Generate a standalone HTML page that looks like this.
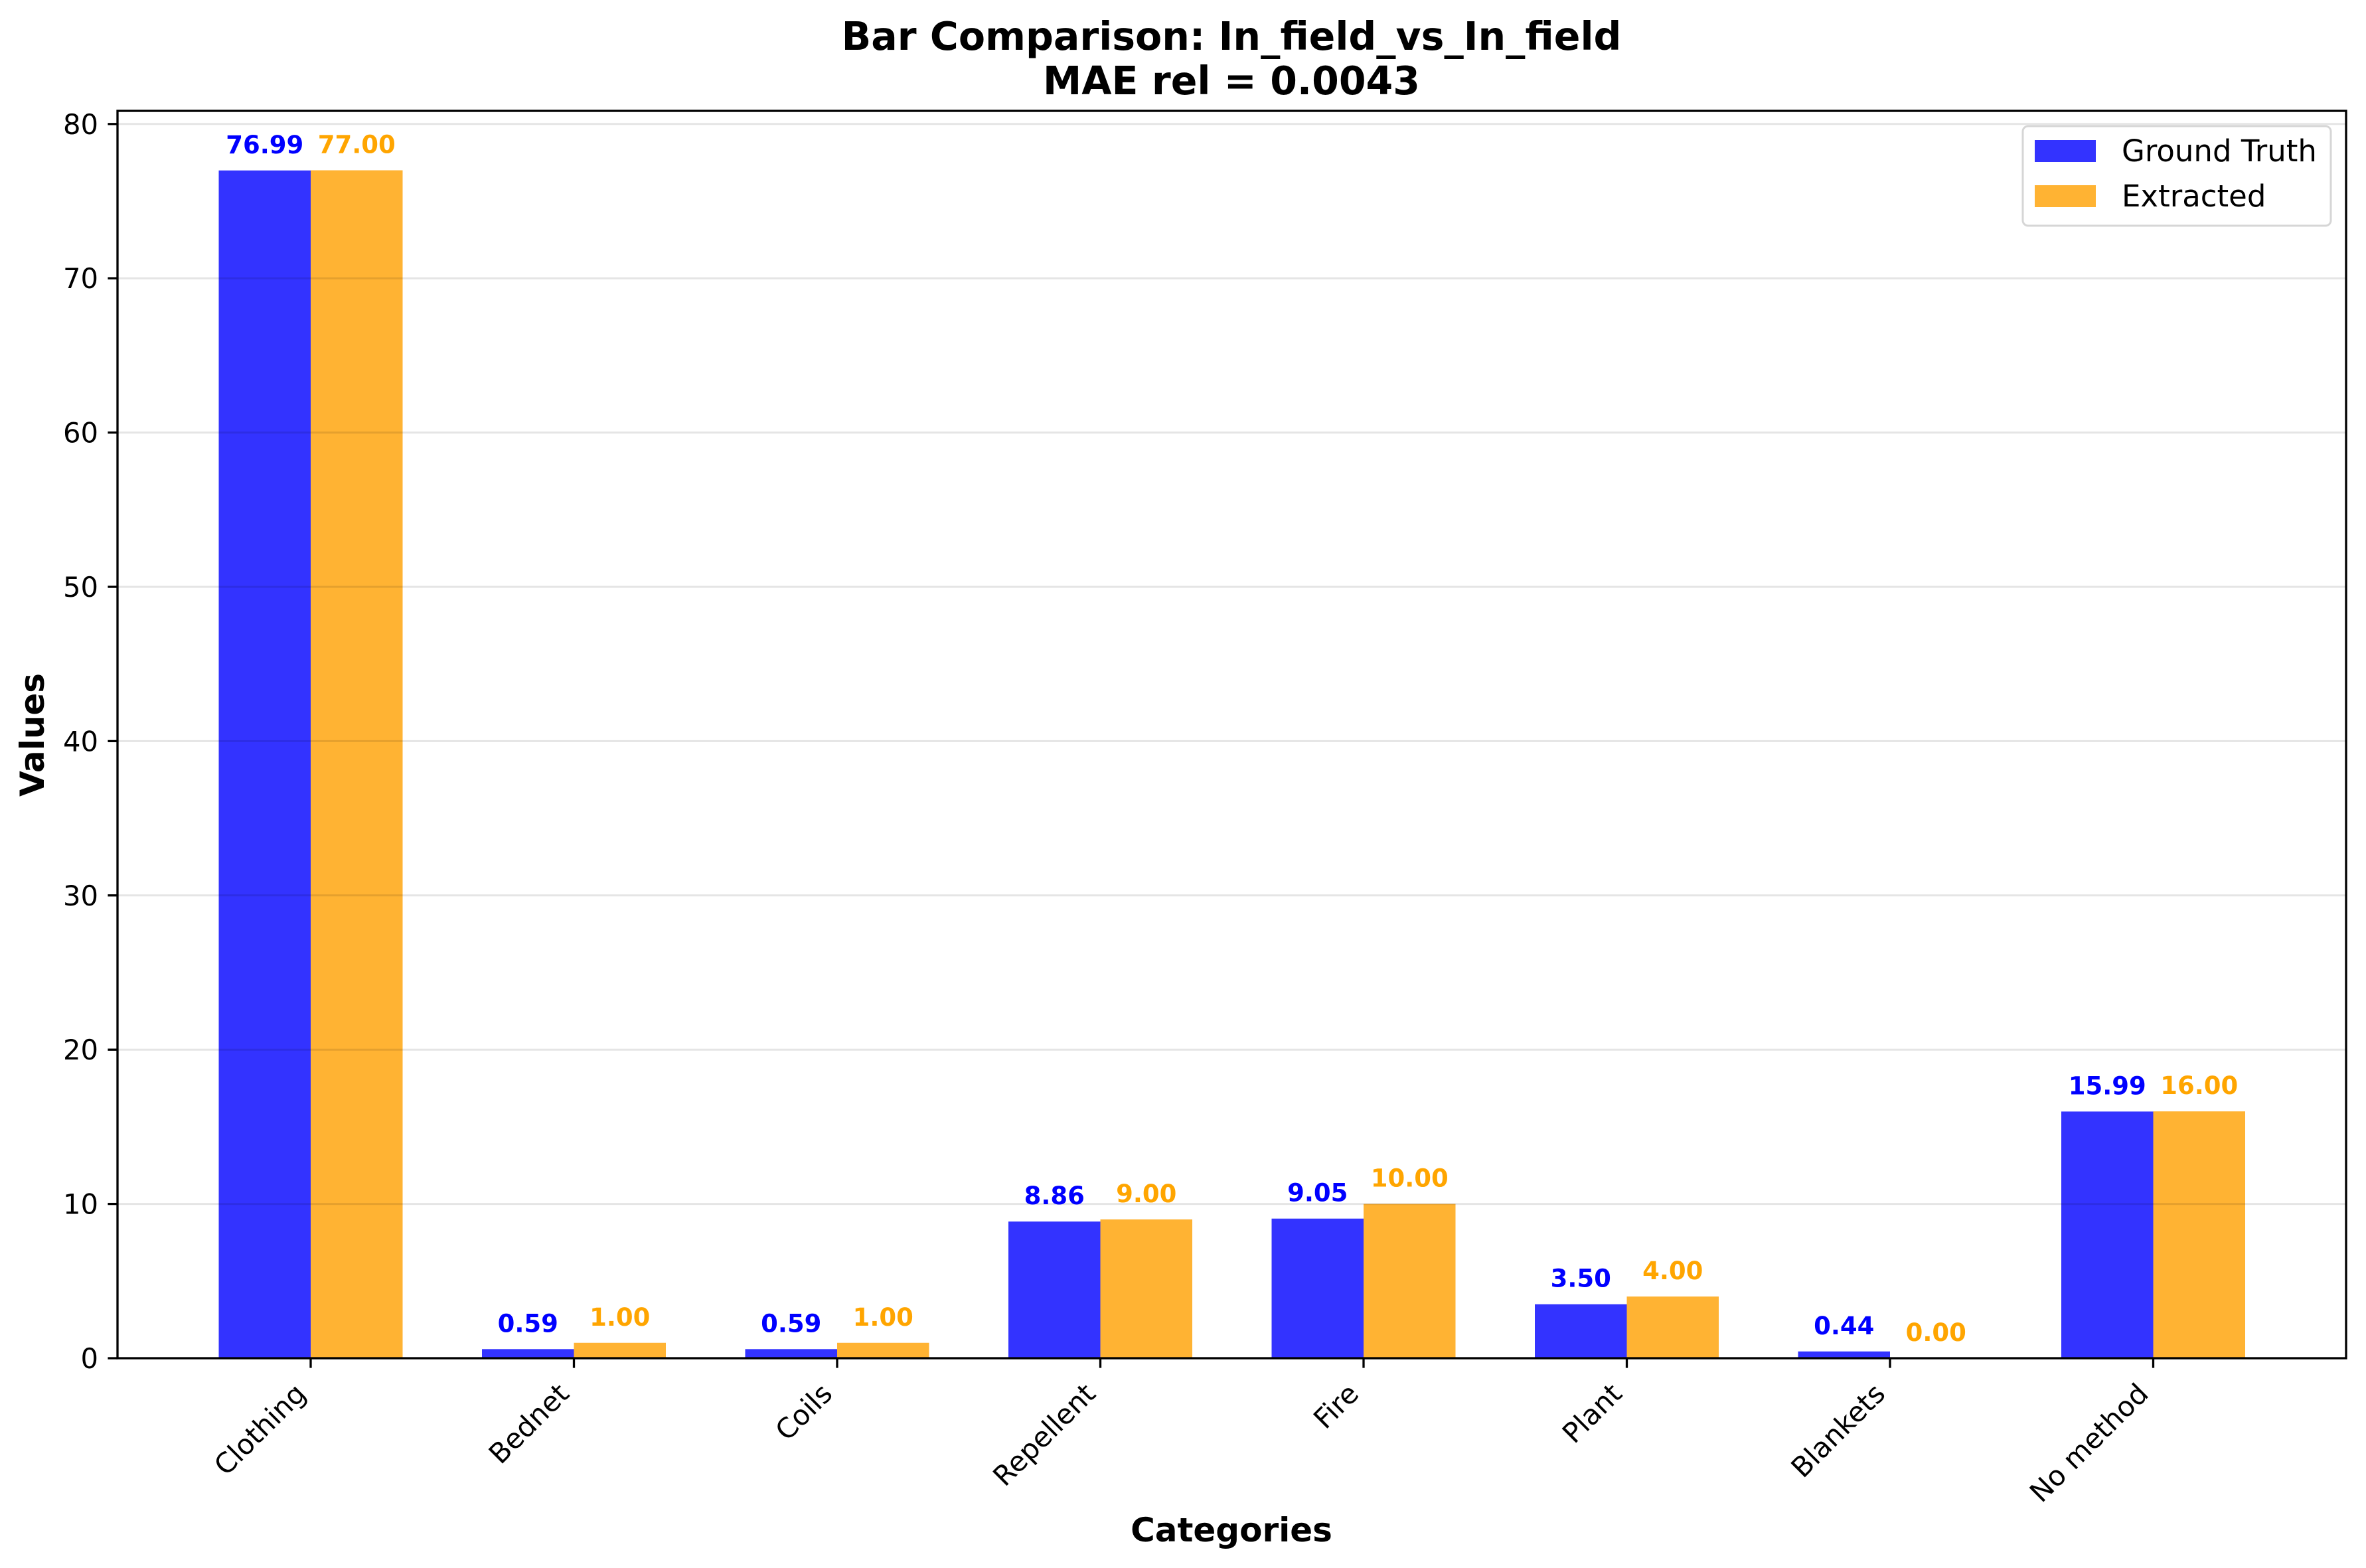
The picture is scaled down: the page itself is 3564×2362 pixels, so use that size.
<!DOCTYPE html>
<html><head><meta charset="utf-8"><style>
html,body{margin:0;padding:0;background:#fff;}
svg{display:block;font-family:"DejaVu Sans","Liberation Sans",sans-serif;}
</style></head><body>
<svg id="chart" width="3564" height="2362" viewBox="0 0 3564 2362" xmlns="http://www.w3.org/2000/svg">
<rect x="0" y="0" width="3564" height="2362" fill="#fff"/>
<g id="bars"></g>
<g id="grid"></g>
<g id="labels"></g>
<g id="axes"></g>
<text x="1855" y="75" text-anchor="middle" font-size="58.5" font-weight="bold">Bar Comparison: In_field_vs_In_field</text>
<text x="1855" y="142" text-anchor="middle" font-size="58.5" font-weight="bold">MAE rel = 0.0043</text>
<text x="1855" y="2322" text-anchor="middle" font-size="50" font-weight="bold">Categories</text>
<text x="66" y="1107" text-anchor="middle" font-size="50" font-weight="bold" transform="rotate(-90 66 1107)">Values</text>
<g>
<rect x="3047" y="190" width="464" height="150" rx="8" fill="#fff" fill-opacity="0.8" stroke="#d6d6d6" stroke-width="3"/>
<rect x="3065" y="211" width="92" height="33" fill="#3333ff"/>
<text x="3196" y="243" font-size="45">Ground Truth</text>
<rect x="3065" y="279" width="92" height="33" fill="#ffb333"/>
<text x="3196" y="311" font-size="45">Extracted</text>
</g>
</svg>
<script>
const categories = ["Clothing","Bednet","Coils","Repellent","Fire","Plant","Blankets","No method"];
const groundTruth = [76.99,0.59,0.59,8.86,9.05,3.50,0.44,15.99];
const extracted = [77.00,1.00,1.00,9.00,10.00,4.00,0.00,16.00];
const yTicks = [0,10,20,30,40,50,60,70,80];

const NS = "http://www.w3.org/2000/svg";
const L = 177, R = 3534, T = 167, B = 2046;
const y0 = 2046, pxPerUnit = 23.24;
const x0 = 468, step = 396.5, bw = 138.5;
function yScale(v){ return y0 - v * pxPerUnit; }
function xScale(i){ return x0 + i * step; }
function mk(tag, attrs, parent){
  const e = document.createElementNS(NS, tag);
  for (const k in attrs) e.setAttribute(k, attrs[k]);
  parent.appendChild(e);
  return e;
}
const bars = document.getElementById('bars');
const grid = document.getElementById('grid');
const labels = document.getElementById('labels');
const axes = document.getElementById('axes');

yTicks.forEach(t => {
  const y = yScale(t);
  const g = mk('line', {x1:L, x2:R, y1:y, y2:y, stroke:'#000', 'stroke-opacity':0.1, 'stroke-width':3}, grid);
  
  
  const tk = mk('line', {x1:L-14.6, x2:L, y1:y, y2:y, stroke:'#000', 'stroke-width':3.3}, axes);
  
  
  const tl = mk('text', {x:L-29, y:y+15, 'text-anchor':'end', 'font-size':41.7}, axes);
  
  
  tl.textContent = t;
});

categories.forEach((c, i) => {
  const cx = xScale(i);
  const gv = groundTruth[i], ev = extracted[i];
  const b1 = mk('rect', {x:cx-bw, y:yScale(gv), width:bw, height:y0-yScale(gv), fill:'#3333ff'}, bars);
  
  
  const b2 = mk('rect', {x:cx, y:yScale(ev), width:bw, height:y0-yScale(ev), fill:'#ffb333'}, bars);
  
  
  const l1 = mk('text', {x:cx-bw/2, y:yScale(gv)-26, 'text-anchor':'middle', 'font-size':37, 'font-weight':'bold', fill:'#0000ff'}, labels);
  
  
  l1.textContent = gv.toFixed(2);
  const l2 = mk('text', {x:cx+bw/2, y:yScale(ev)-26, 'text-anchor':'middle', 'font-size':37, 'font-weight':'bold', fill:'#ffa500'}, labels);
  
  
  l2.textContent = ev.toFixed(2);
  const tk = mk('line', {x1:cx, x2:cx, y1:B, y2:B+14.6, stroke:'#000', 'stroke-width':3.3}, axes);
  
  
  const ax = cx - 27, ay = B + 34;
  const tl = mk('text', {x:ax, y:ay, 'text-anchor':'end', 'font-size':41.7, 'dominant-baseline':'hanging', transform:'rotate(-45 ' + ax + ' ' + ay + ')'}, axes);
  
  
  tl.textContent = c;
});

const frame = mk('rect', {x:L, y:T, width:R-L, height:B-T, fill:'none', stroke:'#000', 'stroke-width':3.3}, axes);


</script>
</body></html>
